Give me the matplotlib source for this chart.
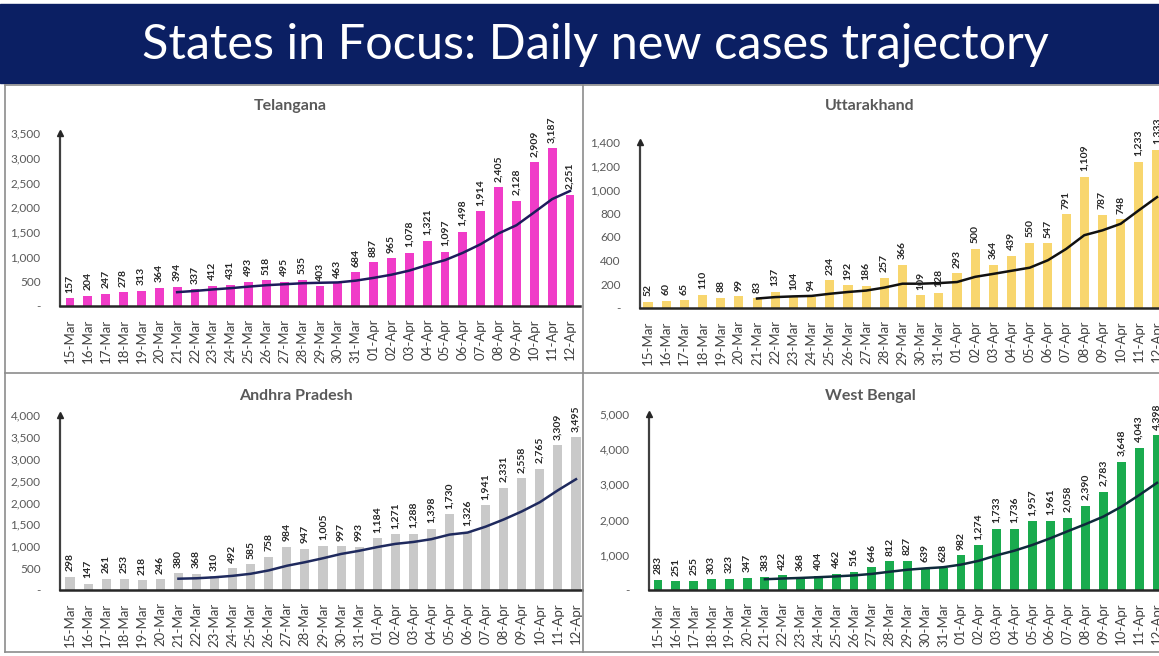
import matplotlib.pyplot as plt
from matplotlib.patches import Rectangle
from matplotlib.lines import Line2D

plt.rcParams['font.family'] = ['Lato', 'DejaVu Sans']

dates = ["15-Mar", "16-Mar", "17-Mar", "18-Mar", "19-Mar", "20-Mar", "21-Mar", "22-Mar",
         "23-Mar", "24-Mar", "25-Mar", "26-Mar", "27-Mar", "28-Mar", "29-Mar", "30-Mar",
         "31-Mar", "01-Apr", "02-Apr", "03-Apr", "04-Apr", "05-Apr", "06-Apr", "07-Apr",
         "08-Apr", "09-Apr", "10-Apr", "11-Apr", "12-Apr"]

telangana = [157, 204, 247, 278, 313, 364, 394, 337, 412, 431, 493, 518, 495, 535, 403,
             463, 684, 887, 965, 1078, 1321, 1097, 1498, 1914, 2405, 2128, 2909, 3187, 2251]
uttarakhand = [52, 60, 65, 110, 88, 99, 83, 137, 104, 94, 234, 192, 186, 257, 366,
               109, 128, 293, 500, 364, 439, 550, 547, 791, 1109, 787, 748, 1233, 1333]
andhra = [298, 147, 261, 253, 218, 246, 380, 368, 310, 492, 585, 758, 984, 947, 1005,
          997, 993, 1184, 1271, 1288, 1398, 1730, 1326, 1941, 2331, 2558, 2765, 3309, 3495]
bengal = [283, 251, 255, 303, 323, 347, 383, 422, 368, 404, 462, 516, 646, 812, 827,
          639, 628, 982, 1274, 1733, 1736, 1957, 1961, 2058, 2390, 2783, 3648, 4043, 4398]

# 7 day average (from 21-Mar)
telangana_avg = [280, 305, 335, 361, 392, 421, 440, 460, 470, 477, 513, 569, 633, 716,
                 829, 928, 1076, 1251, 1468, 1634, 1896, 2163, 2327]
uttarakhand_avg = [80, 92, 98, 102, 120, 135, 147, 172, 205, 205, 210, 219, 263, 288,
                   314, 340, 403, 498, 614, 655, 710, 824, 935]
andhra_avg = [258, 268, 291, 324, 371, 448, 554, 635, 726, 824, 896, 981, 1054, 1098,
              1162, 1266, 1313, 1448, 1612, 1796, 2007, 2280, 2532]
bengal_avg = [306, 326, 343, 364, 387, 415, 457, 519, 576, 615, 647, 721, 830, 985,
              1117, 1278, 1467, 1672, 1873, 2088, 2366, 2696, 3044]

W, H = 1159, 656
fig = plt.figure(figsize=(W / 100, H / 100), dpi=100)

# banner
fig.patches.append(Rectangle((0, 1 - 83 / H), 1, 79 / H, transform=fig.transFigure,
                             color='#0b1f63', zorder=0))
fig.text(595 / W, 1 - 45 / H, "States in Focus: Daily new cases trajectory", color='white',
         fontsize=35, ha='center', va='center', family=['Lato', 'DejaVu Sans'])

# panel borders
grey = '#8c8c8c'
for (x0, y0, x1, y1) in [(5, 85, 5, 652), (5, 652, 1159, 652), (583, 85, 583, 652),
                         (5, 373, 1159, 373), (5, 85, 1159, 85)]:
    fig.lines.append(Line2D([x0 / W, x1 / W], [1 - y0 / H, 1 - y1 / H], transform=fig.transFigure,
                            color=grey, lw=1.2))


def panel(name, vals, avg, color, line_color, ymax, ystep, spine_x, first_x, last_x,
          base_y, top_y, title_x, title_y, right_x):
    step = (last_x - first_x) / 28
    xl = -(first_x - spine_x) / step
    xr = (right_x - first_x) / step
    ax = fig.add_axes([spine_x / W, 1 - base_y / H, (right_x - spine_x) / W, (base_y - top_y) / H])
    x = list(range(len(vals)))
    ax.bar(x, vals, width=0.5, color=color, zorder=2)
    ax.plot(x[6:], avg, color=line_color, lw=1.8, zorder=3)
    for i, v in enumerate(vals):
        ax.annotate(f"{v:,}", (i, v), xytext=(0, 4), textcoords='offset points', rotation=90,
                    ha='center', va='bottom', fontsize=7.5, fontweight='bold', color='#262626',
                    annotation_clip=False)
    ax.set_xlim(xl, xr)
    ax.set_ylim(0, ymax)
    ticks = list(range(0, ymax + 1, ystep))
    ax.set_yticks(ticks)
    ax.set_yticklabels(["-"] + [f"{t:,}" for t in ticks[1:]], fontsize=8.5, color='#595959')
    ax.set_xticks(x)
    ax.set_xticklabels(dates, rotation=90, fontsize=9.5, color='#404040')
    ax.tick_params(axis='x', length=0, pad=9)
    ax.tick_params(axis='y', length=0, pad=14)
    for s in ['top', 'right']:
        ax.spines[s].set_visible(False)
    ax.spines['left'].set_color('#404040')
    ax.spines['left'].set_linewidth(1.6)
    ax.spines['bottom'].set_color('#262626')
    ax.spines['bottom'].set_linewidth(1.8)
    ax.plot([xl], [ymax], marker='^', color='#262626', ms=4, clip_on=False, zorder=4)
    fig.text(title_x / W, 1 - title_y / H, name, fontsize=11.5, fontweight='bold',
             color='#595959', ha='center', va='center')
    return ax


panel("Telangana", telangana, telangana_avg, '#f03cc8', '#1e1b5c', 3500, 500,
      60, 70, 570, 306, 133, 290, 106, 580)
panel("Uttarakhand", uttarakhand, uttarakhand_avg, '#f8d66e', '#111111', 1400, 200,
      640, 648, 1157, 308, 142, 870, 106, 1175)
panel("Andhra Pradesh", andhra, andhra_avg, '#c9c9c9', '#1f2a5e', 4000, 500,
      60, 70, 576, 590, 415, 296, 396, 582)
panel("West Bengal", bengal, bengal_avg, '#1aab4e', '#0f2a3c', 5000, 1000,
      649, 658, 1157, 590, 414, 870, 396, 1175)

fig.savefig("out.png", dpi=100)
